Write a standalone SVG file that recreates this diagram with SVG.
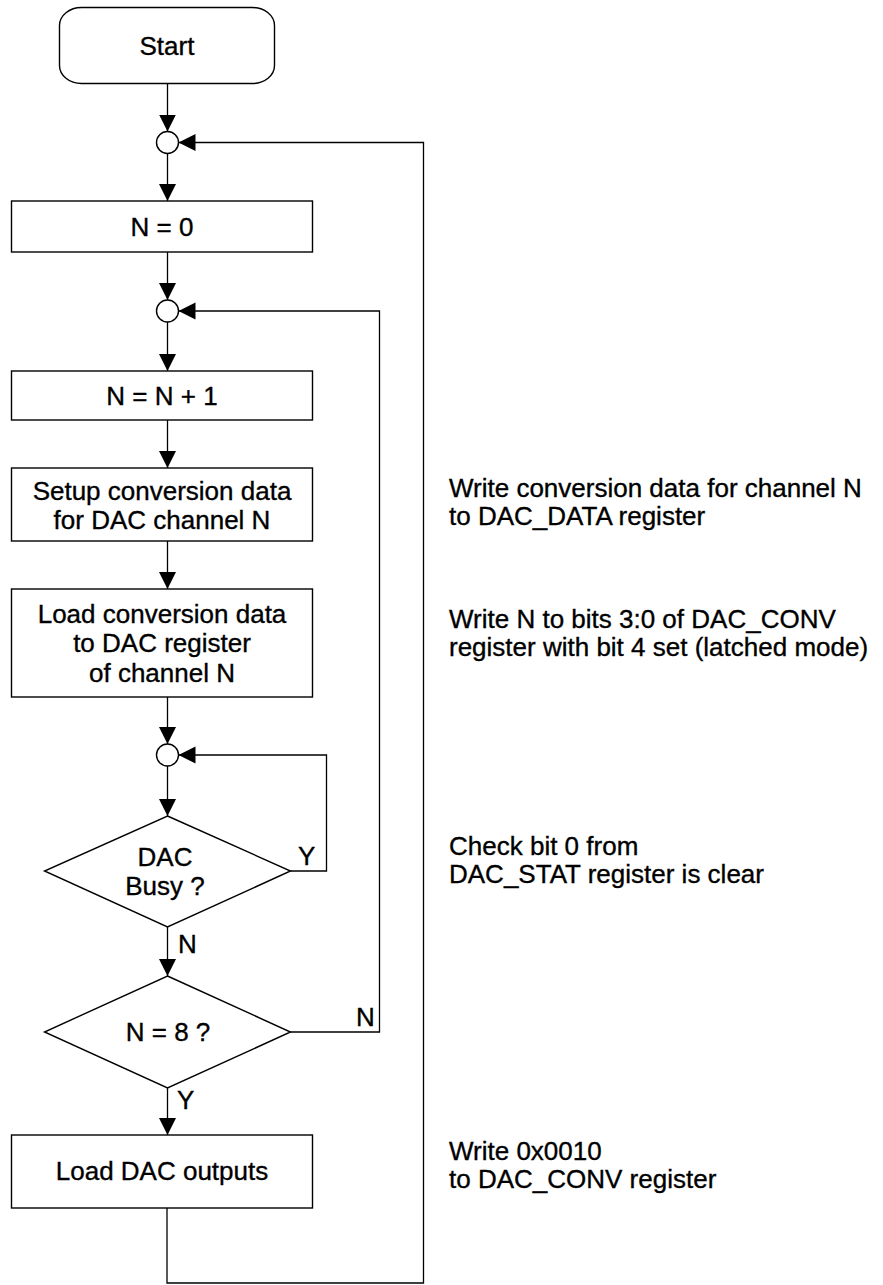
<svg xmlns="http://www.w3.org/2000/svg" width="883" height="1285" viewBox="0 0 883 1285">
<defs>
<style>
.box{fill:#fff;stroke:#000;stroke-width:1.4}
.con{fill:none;stroke:#000;stroke-width:1.3}
.t{font-family:"Liberation Sans",Arial,sans-serif;font-size:26px;fill:#000;stroke:#000;stroke-width:0.35}
.c{text-anchor:middle}
</style>
<marker id="ah" markerUnits="userSpaceOnUse" markerWidth="18" markerHeight="18" refX="17" refY="8.5" orient="auto">
<path d="M0,0 L17,8.5 L0,17 z" fill="#000"/>
</marker>
</defs>
<rect width="883" height="1285" fill="#fff"/>
<g id="connectors">
<line class="con" x1="167.5" y1="83.5" x2="167.5" y2="131.5" marker-end="url(#ah)"/>
<line class="con" x1="167.5" y1="153.5" x2="167.5" y2="201" marker-end="url(#ah)"/>
<line class="con" x1="167.5" y1="252" x2="167.5" y2="300" marker-end="url(#ah)"/>
<line class="con" x1="167.5" y1="322" x2="167.5" y2="371" marker-end="url(#ah)"/>
<line class="con" x1="167.5" y1="420" x2="167.5" y2="468" marker-end="url(#ah)"/>
<line class="con" x1="167.5" y1="541" x2="167.5" y2="589" marker-end="url(#ah)"/>
<line class="con" x1="167.5" y1="697" x2="167.5" y2="744" marker-end="url(#ah)"/>
<line class="con" x1="167.5" y1="766" x2="167.5" y2="816" marker-end="url(#ah)"/>
<line class="con" x1="167.5" y1="927" x2="167.5" y2="976" marker-end="url(#ah)"/>
<line class="con" x1="167.5" y1="1088" x2="167.5" y2="1135" marker-end="url(#ah)"/>
<polyline class="con" points="290.5,871 326.5,871 326.5,755 178.5,755" marker-end="url(#ah)"/>
<polyline class="con" points="290.5,1032 379.5,1032 379.5,311 178.5,311" marker-end="url(#ah)"/>
<polyline class="con" points="167,1208 167,1283 423.5,1283 423.5,142.5 178.5,142.5" marker-end="url(#ah)"/>
</g>
<g id="start">
<rect class="box" x="59.5" y="7.5" width="215" height="76" rx="22" ry="18"/>
<text class="t c" x="167" y="55">Start</text>
</g>
<g id="join1"><circle class="box" cx="167.5" cy="142.5" r="11"/></g>
<g id="n0">
<rect class="box" x="11.5" y="201" width="301" height="51"/>
<text class="t c" x="162" y="235.5">N = 0</text>
</g>
<g id="join2"><circle class="box" cx="167.5" cy="311" r="11"/></g>
<g id="ninc">
<rect class="box" x="11.5" y="371" width="301" height="49"/>
<text class="t c" x="162" y="404.5">N = N + 1</text>
</g>
<g id="setup">
<rect class="box" x="11.5" y="468" width="301" height="73"/>
<text class="t c" x="162" y="500">Setup conversion data</text>
<text class="t c" x="162" y="529">for DAC channel N</text>
</g>
<g id="load">
<rect class="box" x="11.5" y="589" width="301" height="108"/>
<text class="t c" x="162" y="622.5">Load conversion data</text>
<text class="t c" x="162" y="652">to DAC register</text>
<text class="t c" x="162" y="681.5">of channel N</text>
</g>
<g id="join3"><circle class="box" cx="167.5" cy="755" r="11"/></g>
<g id="busy">
<polygon class="box" points="167.5,816 290.5,871 167.5,927 44.5,871"/>
<text class="t c" x="165" y="866">DAC</text>
<text class="t c" x="165" y="895">Busy ?</text>
</g>
<g id="neq8">
<polygon class="box" points="167.5,976 290.5,1032 167.5,1088 44.5,1032"/>
<text class="t c" x="168" y="1041">N = 8 ?</text>
</g>
<g id="loadout">
<rect class="box" x="11.5" y="1135" width="301" height="73"/>
<text class="t c" x="162" y="1180">Load DAC outputs</text>
</g>
<g id="labels">
<text class="t" x="298" y="865">Y</text>
<text class="t" x="178" y="953">N</text>
<text class="t" x="356" y="1026">N</text>
<text class="t" x="177" y="1109">Y</text>
</g>
<g id="notes">
<text class="t" x="449" y="497">Write conversion data for channel N</text>
<text class="t" x="449" y="525">to DAC_DATA register</text>
<text class="t" x="449" y="628">Write N to bits 3:0 of DAC_CONV</text>
<text class="t" x="449" y="656">register with bit 4 set (latched mode)</text>
<text class="t" x="449" y="855">Check bit 0 from</text>
<text class="t" x="449" y="883">DAC_STAT register is clear</text>
<text class="t" x="449" y="1160">Write 0x0010</text>
<text class="t" x="449" y="1188">to DAC_CONV register</text>
</g>
</svg>
